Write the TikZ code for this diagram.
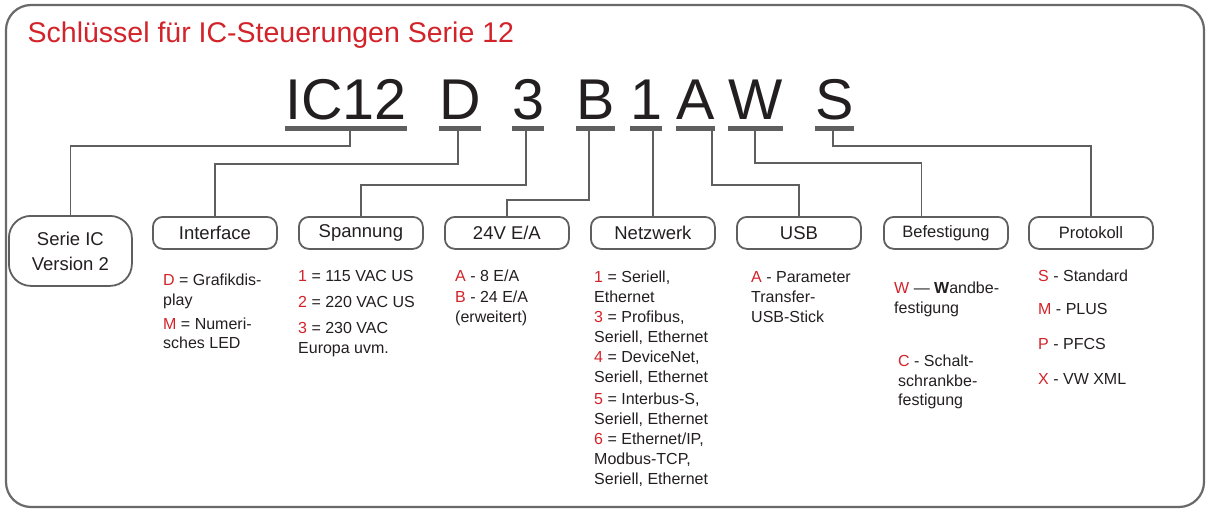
\documentclass[tikz,border=0pt]{standalone}
\usepackage{fontspec}
\setmainfont{Liberation Sans}
\usetikzlibrary{calc}
\definecolor{keyred}{RGB}{210,35,42}
\definecolor{ink}{RGB}{35,31,32}
\definecolor{linegray}{RGB}{95,95,95}
\definecolor{framegray}{RGB}{105,105,105}
\newcommand\redkey[1]{\textcolor{keyred}{#1}}
\newcommand\hstrut{\rule{0pt}{12pt}}
\begin{document}
\begin{tikzpicture}[x=1pt,y=-1pt,
 frame/.style={draw=framegray,line width=2.2pt,rounded corners=25pt},
 keybox/.style={draw=linegray,line width=1.8pt,rounded corners=10pt,minimum width=124pt,minimum height=32pt,inner sep=0pt,anchor=north west,text=ink,font=\fontsize{18.5}{22}\selectfont},
 smallbox/.style={keybox,font=\fontsize{16.5}{20}\selectfont},
 code/.style={anchor=base west,inner sep=0pt,text=ink,font=\fontsize{57.5}{60}\selectfont},
 uline/.style={draw=linegray,line width=4.5pt},
 conn/.style={draw=linegray,line width=1.8pt},
 desc/.style={anchor=north west,inner sep=0pt,align=left,text=ink,font=\fontsize{16}{20}\selectfont},
]
\useasboundingbox (0,0) rectangle (1206,511);
\draw[frame] (6,5) rectangle (1204,507);

\node[anchor=base west,inner sep=0pt,text=keyred,font=\fontsize{28.5}{32}\selectfont] (title) at (27.5,43) {Schlüssel für IC-Steuerungen Serie 12};

% code letters
\node[code] (IC) at (285,119) {IC12};
\node[code] (D) at (439,119) {D};
\node[code] (three) at (512,119) {3};
\node[code] (B) at (576,119) {B};
\node[code] (one) at (630,119) {1};
\node[code] (A) at (676,119) {A};
\node[code] (W) at (728,119) {W};
\node[code] (S) at (815,119) {S};
\foreach \n in {IC,D,three,B,one,A,W,S}
  \draw[uline] ($(\n.base west)+(0,9.5)$) -- ($(\n.base east)+(0,9.5)$);

% boxes
\node[keybox,minimum width=123pt,minimum height=70pt,rounded corners=22pt,align=center,font=\fontsize{18.5}{25}\selectfont] (serie) at (8,215) {Serie IC\\Version 2};
\node[keybox] (iface) at (152,216) {Interface};
\node[keybox] (volt) at (298,216) {Spannung};
\node[keybox] (io) at (444,216) {24V E/A};
\node[keybox] (net) at (590,216) {Netzwerk};
\node[keybox] (usb) at (736,216) {USB};
\node[smallbox] (bef) at (883,216) {Befestigung};
\node[smallbox] (prot) at (1028,216) {Protokoll};

% connectors
\draw[conn] ($(IC.base west)+(65,9.5)$) -- ++(0,17.5) -| (serie.north);
\draw[conn] ($(D.base west)+(19,9.5)$) -- ++(0,35.5) -| (iface.north);
\draw[conn] ($(three.base west)+(14,9.5)$) -- ++(0,56.5) -| (volt.north);
\draw[conn] ($(B.base west)+(13,9.5)$) -- ++(0,71.5) -| (io.north);
\draw[conn] ($(net.north |- one.base)+(0,9.5)$) -- (net.north);
\draw[conn] ($(A.base west)+(36,9.5)$) -- ++(0,56.5) -| (usb.north);
\draw[conn] ($(W.base west)+(27,9.5)$) -- ++(0,34.5) -| ($(bef.north)+(-24.5,0)$);
\draw[conn] ($(S.base west)+(18,9.5)$) -- ++(0,17.5) -| (prot.north);

% descriptions
\node[desc,font=\fontsize{16}{19.5}\selectfont] (ifdesc) at (163,273.7) {\hstrut\redkey{D} = Grafikdis-\\play\\[4.5pt]\redkey{M} = Numeri-\\sches LED};
\node[desc] (voltdesc) at (298,269.7) {\hstrut\redkey{1} = 115 VAC US\\[6pt]\redkey{2} = 220 VAC US\\[6pt]\redkey{3} = 230 VAC\\Europa uvm.};
\node[desc,font=\fontsize{16}{20.5}\selectfont] (iodesc) at (455,269.7) {\hstrut\redkey{A} - 8 E/A\\\redkey{B} - 24 E/A\\(erweitert)};
\node[desc] (netdesc) at (594,270.7) {\hstrut\redkey{1} = Seriell,\\Ethernet\\\redkey{3} = Profibus,\\Seriell, Ethernet\\\redkey{4} = DeviceNet,\\Seriell, Ethernet\\[2pt]\redkey{5} = Interbus-S,\\Seriell, Ethernet\\\redkey{6} = Ethernet/IP,\\Modbus-TCP,\\Seriell, Ethernet};
\node[desc] (usbdesc) at (751,270.7) {\hstrut\redkey{A} - Parameter\\Transfer-\\USB-Stick};
\node[desc] (befw) at (894,281.7) {\hstrut\redkey{W} — \textbf{W}andbe-\\festigung};
\node[desc,font=\fontsize{16}{19.5}\selectfont] (befc) at (898,354.7) {\hstrut\redkey{C} - Schalt-\\schrankbe-\\festigung};
\node[desc] (protdesc) at (1038,269.7) {\hstrut\redkey{S} - Standard\\[13pt]\redkey{M} - PLUS\\[15pt]\redkey{P} - PFCS\\[15pt]\redkey{X} - VW XML};
\end{tikzpicture}
\end{document}
